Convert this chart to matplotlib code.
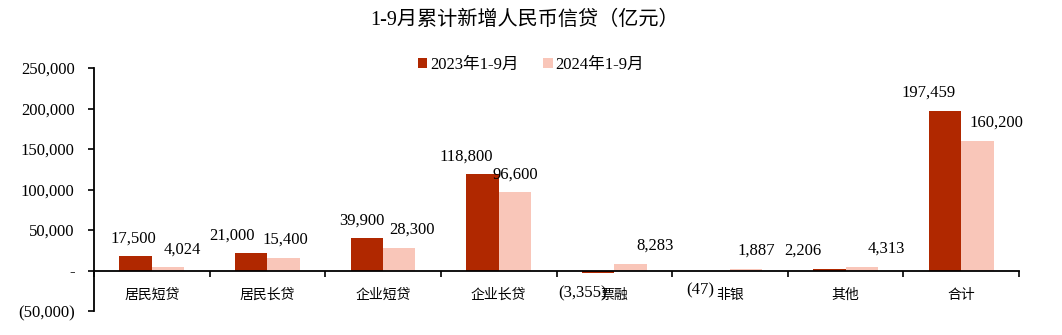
import matplotlib
matplotlib.use("Agg")
import matplotlib.pyplot as plt
import numpy as np
from matplotlib.ticker import FuncFormatter, FixedLocator

plt.rcParams['font.family'] = ['Liberation Serif', 'Noto Sans CJK SC', 'DejaVu Sans']
plt.rcParams['axes.unicode_minus'] = False

# data (亿元)
categories = ['居民短贷', '居民长贷', '企业短贷', '企业长贷', '票融', '非银', '其他', '合计']
series_names = ['2023年1-9月', '2024年1-9月']
values_2023 = [17500, 21000, 39900, 118800, -3355, -47, 2206, 197459]
values_2024 = [4024, 15400, 28300, 96600, 8283, 1887, 4313, 160200]
y_ticks = [-50000, 0, 50000, 100000, 150000, 200000, 250000]

# horizontal nudges (points) that keep value labels clear of each other
nudge_2023 = [-1.5, -14, -3.5, -11.5, -11.5, -10, -19, -11.5]
nudge_2024 = [10, 1.5, 9, 0, 18, 7, 18, 13.5]

c_2023 = '#B02800'
c_2024 = '#F9C6B9'

fig = plt.figure(figsize=(10.62, 3.35), dpi=100)
ax = fig.add_axes([94 / 1062, 1 - 311 / 335, (1019 - 94) / 1062, (311 - 68) / 335])

x = np.arange(len(categories))
w = 0.28
b1 = ax.bar(x - w / 2, values_2023, w, color=c_2023, label=series_names[0], zorder=2)
b2 = ax.bar(x + w / 2, values_2024, w, color=c_2024, label=series_names[1], zorder=2)


def fmt_value(v):
    return f'({abs(v):,})' if v < 0 else f'{v:,}'


for bars, vals, nudges in ((b1, values_2023, nudge_2023), (b2, values_2024, nudge_2024)):
    for rect, v, dx in zip(bars, vals, nudges):
        cx = rect.get_x() + rect.get_width() / 2
        dy = 10 if v >= 0 else -17.5
        ax.annotate(fmt_value(v), (cx, v), xytext=(dx, dy), textcoords='offset points',
                    ha='center', va='baseline', fontsize=12, zorder=3)

ax.set_xlim(-0.5, len(categories) - 0.5)
ax.set_ylim(-50000, 250000)
ax.set_yticks(y_ticks)


def y_fmt(v, pos):
    if v == 0:
        return '-'
    return f'({abs(int(v)):,})' if v < 0 else f'{int(v):,}'


ax.yaxis.set_major_formatter(FuncFormatter(y_fmt))
ax.tick_params(axis='y', labelsize=12, length=4, width=1.2, pad=10, direction='out')

ax.set_xticks(x)
ax.set_xticklabels(categories, fontsize=12.5)
ax.xaxis.set_minor_locator(FixedLocator(np.arange(len(categories) + 1) - 0.5))
ax.tick_params(axis='x', which='major', length=0, pad=13)
ax.tick_params(axis='x', which='minor', length=4, width=1.2, direction='out')

for s in ('top', 'right'):
    ax.spines[s].set_visible(False)
ax.spines['bottom'].set_position(('data', 0))
ax.spines['bottom'].set_linewidth(1.3)
ax.spines['left'].set_linewidth(1.3)

fig.text(525 / 1062, 1 - 20 / 335, '1-9月累计新增人民币信贷（亿元）', ha='center', va='center', fontsize=14.5)

fig.legend(handles=[b1, b2], labels=series_names, loc='center',
           bbox_to_anchor=(531 / 1062, 1 - 65 / 335), ncol=2, frameon=False,
           fontsize=12, handlelength=0.55, handleheight=0.55, handletextpad=0.15,
           columnspacing=1.5, borderaxespad=0)

fig.savefig('out.png', dpi=100)
